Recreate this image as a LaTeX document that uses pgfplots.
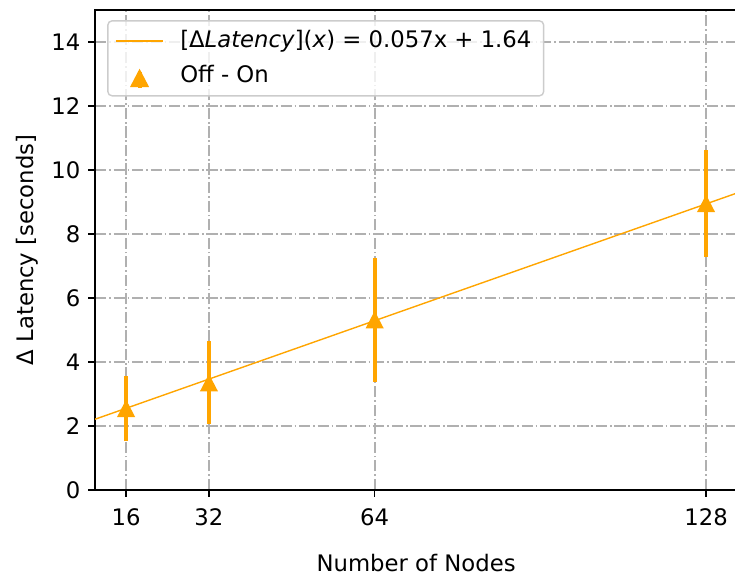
\documentclass[border=0pt]{standalone}
\usepackage{fontspec}
\setmainfont{DejaVu Sans}
\usepackage{pgfplots}
\pgfplotsset{compat=1.18}

\definecolor{mplorange}{HTML}{FFA500}
\definecolor{gridgray}{HTML}{B0B0B0}

% upward triangle centred on its bounding box
\pgfdeclareplotmark{uptri}{%
  \pgfpathmoveto{\pgfqpoint{0pt}{5pt}}%
  \pgfpathlineto{\pgfqpoint{-5.2pt}{-5pt}}%
  \pgfpathlineto{\pgfqpoint{5.2pt}{-5pt}}%
  \pgfpathclose
  \pgfusepathqfill}

\begin{document}
\fontsize{13}{15.6}\selectfont
\begin{tikzpicture}
\begin{axis}[
  at={(54.3pt,48pt)}, anchor=south west,
  scale only axis,
  width=367pt, height=274.4pt,
  xmin=10, xmax=134.03,
  ymin=0, ymax=15,
  xtick={16,32,64,128},
  ytick={0,2,...,14},
  tick pos=left,
  tick align=outside,
  major tick length=3.8pt,
  every tick/.style={black, line width=0.85pt},
  axis line style={line width=0.85pt},
  /pgf/number format/assume math mode=true,
  ticklabel style={font=\fontsize{13}{15.6}\selectfont},
  xticklabel style={yshift=-2.5pt},
  grid=major,
  major grid style={gridgray, line width=1pt, dash pattern=on 6.4pt off 1.6pt on 1pt off 1.6pt},
  xlabel={Number of Nodes},
  ylabel={Δ Latency [seconds]},
  label style={font=\fontsize{13}{15.6}\selectfont},
  xlabel style={at={(axis description cs:0.5,0)}, anchor=center, yshift=-41.5pt},
  ylabel style={at={(axis description cs:-0.1063,0.5)}, anchor=center},
  legend cell align=left,
  legend style={
    at={(axis description cs:0,1)}, anchor=north west,
    xshift=6.9pt, yshift=-5.9pt,
    draw=black!20, line width=0.8pt, rounded corners=2.5pt,
    fill=white, fill opacity=0.8, text opacity=1, draw opacity=1,
    font=\fontsize{13}{15.6}\selectfont,
    row sep=4.2pt, column sep=6.5pt, inner xsep=4pt, inner ysep=3.5pt,
    nodes={inner xsep=3pt},
  },
]
% least-squares fit of the latency difference
\addplot[mplorange, line width=0.8pt,
  legend image code/.code={\draw[sharp corners, mplorange, line width=0.9pt] (0pt,0pt) -- (27pt,0pt);}]
  coordinates {(0,1.64) (140,9.62)};
\addlegendentry{[Δ\textit{Latency}](\textit{x}) = 0.057x + 1.64}

% measured mean difference with spread
\addplot[mplorange, only marks, mark=uptri,
  mark options={fill=mplorange, draw=none},
  error bars/.cd, y dir=both, y explicit,
  error bar style={line width=2.3pt, mplorange},
  error mark=none,
  /pgfplots/legend image code/.code={
    \draw[sharp corners, mplorange, line width=2.3pt] (13.7pt,-6.8pt) -- (13.7pt,2pt);
    \fill[sharp corners, mplorange, fill opacity=1] (13.7pt,3.2pt) -- (8.9pt,-6pt) -- (18.5pt,-6pt) -- cycle;
  }]
  coordinates {
    (16,2.55)  +- (0,1.02)
    (32,3.35)  +- (0,1.30)
    (64,5.32)  +- (0,1.94)
    (128,8.95) +- (0,1.67)
  };
\addlegendentry{Off - On}
\end{axis}
\pgfresetboundingbox
\path[use as bounding box] (0,0) rectangle (420pt,328pt);
\end{tikzpicture}
\end{document}
